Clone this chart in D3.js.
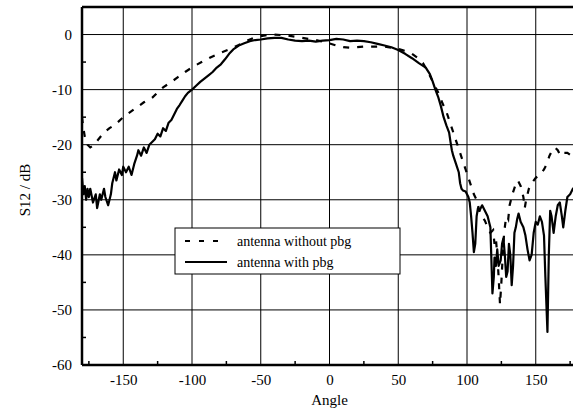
<!DOCTYPE html>
<html>
<head>
<meta charset="utf-8">
<script src="https://cdn.jsdelivr.net/npm/d3@7"></script>
<style>
  body { margin: 0; background: #fff; }
  text { font-family: "Liberation Serif", "Times New Roman", serif; fill: #000; }
</style>
</head>
<body>
<div id="chart"></div>
<script>
// angle (deg), S12 (dB)
var withoutPbg = [[-180,-15],[-179,-17],[-178,-18.5],[-176,-20],[-174,-20.5],[-171,-20],[-168,-19],[-164,-17.8],[-160,-17],[-156,-16.4],[-150,-15],[-145,-14.1],[-140,-13.2],[-135,-12.3],[-129,-11.5],[-125,-10.5],[-121,-9.6],[-115,-8.6],[-110,-7.7],[-105,-6.8],[-99,-5.8],[-93,-5],[-87,-4.2],[-80,-3.4],[-72,-2.6],[-66,-1.9],[-61,-1.2],[-55,-0.6],[-50,-0.3],[-45,-0.1],[-40,0],[-35,-0.1],[-30,-0.2],[-25,-0.4],[-20,-0.6],[-15,-0.8],[-10,-1],[-5,-1.3],[0,-1.6],[5,-2],[10,-2.3],[15,-2.4],[20,-2.3],[25,-2.2],[30,-2.2],[35,-2.2],[40,-2.2],[45,-2.4],[50,-2.6],[55,-3],[60,-3.5],[64,-4.2],[68,-5.2],[71,-6.5],[74,-8],[77,-9.5],[80,-11],[82,-12.4],[85,-14],[87,-15.5],[89,-17],[91,-18.5],[93,-20],[95,-21.5],[97,-23],[99,-24.5],[101,-26],[103,-27.5],[105,-29],[107,-30],[109,-32],[111,-33],[113,-33.8],[115,-35],[117,-36],[119,-35.5],[120,-38],[121,-37],[122,-40],[123,-44],[124,-49],[125,-45],[126,-40],[127,-36],[128,-34],[129,-33],[130,-33.5],[131,-31],[133,-29],[135,-27.5],[137,-26.5],[139,-27.5],[141,-29.5],[142,-31.5],[143,-30],[145,-28],[147,-27],[150,-26],[153,-25.5],[156,-24.5],[158,-23.5],[160,-22],[162,-21],[164,-20.5],[166,-21],[168,-22],[170,-21.5],[173,-21.5],[176,-22],[180,-22.5]];

var withPbg = [[-180,-26],[-179,-29],[-178,-27.5],[-177,-30],[-176,-28],[-175,-29.5],[-174,-28],[-172,-30.5],[-170,-29],[-169,-31.5],[-167,-29],[-166,-30],[-164,-28],[-163,-29.5],[-161,-31],[-159,-29],[-158,-27],[-156,-25],[-155,-26.5],[-153,-24.5],[-151,-25.5],[-150,-24],[-148,-25],[-146,-24],[-144,-25.5],[-142,-23.5],[-140,-22],[-139,-21],[-137,-22],[-135,-20.5],[-133,-21.5],[-131,-20],[-129,-19.5],[-127,-19],[-125,-18],[-123,-18.5],[-121,-17],[-119,-17.5],[-117,-16],[-115,-15.5],[-113,-14.5],[-111,-13.5],[-109,-12.8],[-107,-12],[-105,-11.2],[-103,-10.6],[-100,-10],[-97,-9.3],[-94,-8.6],[-91,-8],[-88,-7.4],[-85,-6.8],[-82,-6],[-79,-5.4],[-76,-4.5],[-73,-3.5],[-70,-2.7],[-66,-2],[-62,-1.6],[-58,-1.2],[-54,-1],[-50,-0.9],[-45,-0.7],[-40,-0.6],[-35,-0.6],[-30,-0.9],[-25,-1.1],[-20,-1.2],[-15,-1.1],[-10,-1.3],[-5,-1.1],[0,-1],[5,-0.8],[10,-0.9],[15,-1.2],[20,-1.1],[25,-1.2],[30,-1.4],[35,-1.7],[40,-2],[45,-2.3],[50,-2.8],[55,-3.5],[60,-4.3],[65,-5.2],[70,-6],[73,-7.2],[75,-8.5],[77,-10],[79,-11.3],[81,-13],[83,-15],[85,-16.5],[87,-17.8],[88,-19.5],[89,-21],[90,-22],[92,-23.5],[94,-25],[95,-27],[96,-28],[97,-28.3],[99,-28.5],[100,-29],[101,-29.5],[102,-30.5],[103,-33],[104,-36],[105,-39.5],[106,-38],[107,-33],[108,-31.5],[109,-32],[111,-31],[113,-32],[115,-33],[116,-34],[117,-35],[118,-43],[118.5,-47],[119.5,-44],[120,-40.5],[121,-42],[122,-39],[123,-42],[124.5,-41],[125.5,-38],[126.5,-37],[127.5,-40],[128.5,-44],[129.5,-43],[130.5,-38],[131.5,-40],[132.5,-45.5],[133.5,-42],[134.5,-36],[135.5,-35],[136.5,-33.5],[137.5,-32.5],[139,-34],[141,-35],[142.5,-36.5],[144,-39],[145.5,-41],[147,-40],[148.5,-36],[150,-34],[151.5,-34.5],[153,-33],[154.5,-34],[156,-36.5],[157,-44],[158.5,-54],[159.5,-40],[160.5,-32],[161.5,-33],[163,-36],[164.5,-33],[166,-31],[167.5,-30.5],[169,-33],[170,-35],[171.5,-32],[173,-29.5],[175,-29],[177,-28],[180,-27.5]];

var xTicks = [-150, -100, -50, 0, 50, 100, 150];
var yTicks = [0, -10, -20, -30, -40, -50, -60];
var xMinor = [-175, -125, -75, -25, 25, 75, 125, 175];
var yMinor = [-5, -15, -25, -35, -45, -55];
var seriesNames = ['antenna without pbg', 'antenna with pbg'];

var W = 573, H = 414;
var pL = 82, pT = 7, pB = 365, pR = 577;

var svg = d3.select('#chart').append('svg')
  .attr('width', W).attr('height', H);

var x = d3.scaleLinear().domain([-180, 180]).range([pL, pR]);
var y = d3.scaleLinear().domain([-60, 5]).range([pB, pT]);

svg.append('clipPath').attr('id', 'plot')
  .append('rect').attr('x', pL).attr('y', pT)
  .attr('width', pR - pL).attr('height', pB - pT);

// grid
var grid = svg.append('g').attr('stroke', '#000').attr('stroke-width', 1);
grid.selectAll('.gx').data(xTicks).enter().append('line')
  .attr('x1', d => x(d)).attr('x2', d => x(d))
  .attr('y1', pT).attr('y2', pB);
grid.selectAll('.gy').data(yTicks.filter(d => d > -60)).enter().append('line')
  .attr('x1', pL).attr('x2', pR)
  .attr('y1', d => y(d)).attr('y2', d => y(d));

// minor ticks
var minor = svg.append('g').attr('stroke', '#000').attr('stroke-width', 1.5);
minor.selectAll('.mx').data(xMinor).enter().append('line')
  .attr('x1', d => x(d)).attr('x2', d => x(d))
  .attr('y1', pB).attr('y2', pB - 4);
minor.selectAll('.my').data(yMinor).enter().append('line')
  .attr('x1', pL).attr('x2', pL + 4)
  .attr('y1', d => y(d)).attr('y2', d => y(d));

var line = d3.line().x(d => x(d[0])).y(d => y(d[1]));

var curves = svg.append('g').attr('clip-path', 'url(#plot)');
curves.append('path').datum(withoutPbg)
  .attr('d', line).attr('fill', 'none')
  .attr('stroke', '#000').attr('stroke-width', 2.2)
  .attr('stroke-dasharray', '6,8');
curves.append('path').datum(withPbg)
  .attr('d', line).attr('fill', 'none')
  .attr('stroke', '#000').attr('stroke-width', 2.2)
  .attr('stroke-linejoin', 'round');

// frame
var frame = svg.append('g').attr('stroke', '#000').attr('stroke-width', 2.5);
frame.append('line').attr('x1', pL).attr('x2', pL).attr('y1', pT).attr('y2', pB);
frame.append('line').attr('x1', pL).attr('x2', pR).attr('y1', pT).attr('y2', pT);
frame.append('line').attr('x1', pL).attr('x2', pR).attr('y1', pB).attr('y2', pB);

// axes labels
var xAxis = svg.append('g')
  .attr('transform', 'translate(0,' + pB + ')')
  .call(d3.axisBottom(x).tickValues(xTicks).tickFormat(d => String(d)).tickSize(0).tickPadding(9));
xAxis.select('.domain').remove();
xAxis.selectAll('text').attr('font-size', 15)
  .style('font-family', '"Liberation Serif", serif');

var yAxis = svg.append('g')
  .attr('transform', 'translate(' + pL + ',0)')
  .call(d3.axisLeft(y).tickValues(yTicks).tickFormat(d => String(d)).tickSize(0).tickPadding(10));
yAxis.select('.domain').remove();
yAxis.selectAll('text').attr('font-size', 15)
  .style('font-family', '"Liberation Serif", serif');

svg.append('text').attr('x', x(0)).attr('y', 405)
  .attr('text-anchor', 'middle').attr('font-size', 15).text('Angle');
svg.append('text')
  .attr('transform', 'translate(30,190) rotate(-90)')
  .attr('text-anchor', 'middle').attr('font-size', 15).text('S12 / dB');

// legend
var lg = svg.append('g');
lg.append('rect').attr('x', 175).attr('y', 228).attr('width', 225).attr('height', 46)
  .attr('fill', '#fff').attr('stroke', '#000').attr('stroke-width', 1);
lg.selectAll('.ll').data(seriesNames).enter().append('line')
  .attr('x1', 185).attr('x2', 227)
  .attr('y1', (d, i) => 241 + i * 21).attr('y2', (d, i) => 241 + i * 21)
  .attr('stroke', '#000').attr('stroke-width', 1.8)
  .attr('stroke-dasharray', (d, i) => i === 0 ? '5,9' : null);
lg.selectAll('.lt').data(seriesNames).enter().append('text')
  .attr('x', 237).attr('y', (d, i) => 246 + i * 21)
  .attr('font-size', 14).text(d => d);
</script>
</body>
</html>
